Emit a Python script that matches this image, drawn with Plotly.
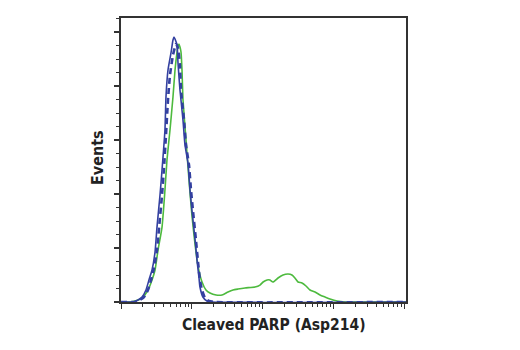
import plotly.graph_objects as go

# Fluorescence intensity (log scale) and event counts for each histogram
blue_x = [1, 1.48, 1.74, 1.98, 2.25, 2.48, 2.74, 3.02, 3.22, 3.55, 3.79, 4.17, 4.31, 4.60,
          5.07, 5.41, 5.59, 5.78, 6.17, 6.37, 6.79, 7.49, 7.99, 8.81, 9.40, 10.0, 11.1,
          11.8, 12.6, 13.0, 14.3, 16.3, 19.2, 10470]
blue_y = [0, 0, 1.9, 4.6, 11.1, 20.4, 29.6, 46.3, 69.4, 99.1, 122.2, 159.3, 189.8, 214.8,
          230.6, 242.6, 245.4, 243.5, 238.0, 221.3, 196.3, 168.5, 145.4, 128.7, 103.7, 85.2,
          57.4, 38.9, 22.2, 13.9, 4.6, 0.9, 0, 0]

dashed_x = [1, 1.58, 1.85, 2.11, 2.40, 2.65, 2.92, 3.22, 3.44, 3.79, 4.04, 4.31, 4.60, 4.91,
            5.41, 5.78, 5.97, 6.37, 6.79, 7.02, 7.74, 8.26, 9.10, 9.71, 10.4, 11.4, 12.2,
            13.0, 13.9, 15.3, 17.4, 20.5, 10470]
dashed_y = [0, 0, 1.9, 4.6, 11.1, 20.4, 31.5, 48.1, 68.5, 99.1, 124.1, 154.6, 187.0, 210.2,
            228.7, 236.1, 238.9, 235.2, 219.4, 196.3, 168.5, 145.4, 126.9, 103.7, 83.3, 57.4,
            37.0, 20.4, 11.1, 3.7, 0.9, 0, 0]

green_x = [1, 1.34, 1.58, 1.98, 2.40, 2.74, 3.02, 3.33, 3.79, 4.17, 4.45, 4.91, 5.41, 5.78,
           6.17, 6.37, 6.58, 6.79, 7.02, 7.25, 7.49, 8.26, 9.10, 10.0, 11.1, 12.2, 13.9,
           15.8, 18.0, 21.9, 26.6, 32.3, 38.0, 44.7, 56.1, 77.6, 91.3, 101, 115, 126, 139,
           164, 193, 227, 258, 284, 314, 357, 407, 463, 545, 641, 754, 887, 1114, 1443, 10470]
green_y = [0, 0, 0.9, 3.7, 11.1, 20.4, 29.6, 48.1, 69.4, 103.7, 131.5, 159.3, 189.8, 214.8,
           231.5, 237.0, 238.9, 236.1, 231.5, 214.8, 187.0, 150.0, 113.0, 80.6, 52.8, 33.3,
           18.5, 11.1, 8.3, 6.5, 6.5, 9.3, 11.1, 12.0, 13.0, 13.9, 15.7, 18.5, 20.4, 20.4,
           18.5, 22.2, 25.0, 25.9, 25.0, 22.2, 18.5, 17.6, 14.8, 11.1, 9.3, 6.5, 4.6, 2.8,
           0.9, 0, 0]

x_title = "Cleaved PARP (Asp214)"
y_title = "Events"

BLUE = "#3340a0"
GREEN = "#4dba3e"
AXIS = "#333333"
TITLE_FONT = "DejaVu Sans Condensed, Liberation Sans Narrow, Arial"

fig = go.Figure()
fig.add_trace(go.Scatter(x=green_x, y=green_y, mode="lines",
                         line=dict(color=GREEN, width=1.6, shape="spline", smoothing=0.5)))
fig.add_trace(go.Scatter(x=dashed_x, y=dashed_y, mode="lines",
                         line=dict(color=BLUE, width=2.6, dash="6px,4px",
                                   shape="spline", smoothing=0.5)))
fig.add_trace(go.Scatter(x=blue_x, y=blue_y, mode="lines",
                         line=dict(color=BLUE, width=1.6, shape="spline", smoothing=0.5)))

fig.update_layout(
    width=520, height=350,
    margin=dict(l=121, r=114, t=18, b=48),
    paper_bgcolor="white", plot_bgcolor="white",
    showlegend=False,
    xaxis=dict(type="log", range=[0, 4.02], dtick=1,
               showgrid=False, zeroline=False, showticklabels=False,
               showline=True, mirror=True, linecolor=AXIS, linewidth=1.5,
               ticks="outside", ticklen=5, tickwidth=1.2, tickcolor=AXIS,
               minor=dict(dtick="D1", ticks="outside", ticklen=3, tickwidth=1,
                          tickcolor=AXIS, showgrid=False)),
    yaxis=dict(range=[0, 263], dtick=50,
               showgrid=False, zeroline=False, showticklabels=False,
               showline=True, mirror=True, linecolor=AXIS, linewidth=1.5,
               ticks="outside", ticklen=5, tickwidth=1.5, tickcolor=AXIS,
               minor=dict(dtick=12.5, ticks="outside", ticklen=3, tickwidth=1,
                          tickcolor=AXIS, showgrid=False)),
    annotations=[
        dict(text=f"<b>{x_title}</b>", xref="paper", yref="paper", x=0.5, y=0,
             xshift=10, yshift=-23, xanchor="center", yanchor="middle", showarrow=False,
             font=dict(family=TITLE_FONT, size=15.5, color="#222222")),
        dict(text=f"<b>{y_title}</b>", xref="paper", yref="paper", x=0, y=0.5,
             xshift=-24, yshift=2, xanchor="center", yanchor="middle", showarrow=False,
             textangle=-90,
             font=dict(family=TITLE_FONT, size=16, color="#222222")),
    ],
)

fig.write_html("out.html")
